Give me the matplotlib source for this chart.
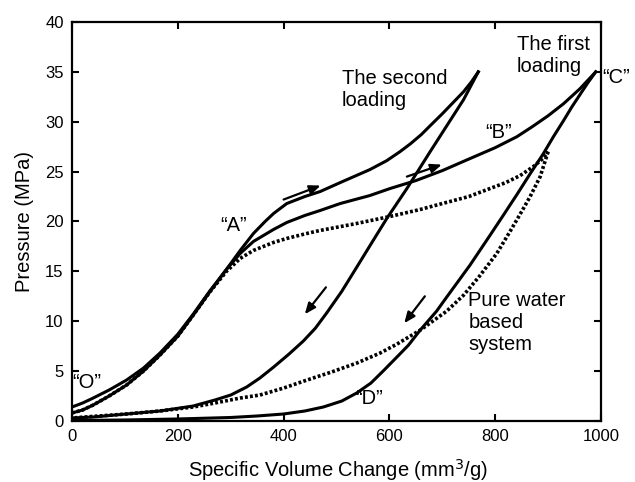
import matplotlib
matplotlib.use('Agg')
import matplotlib.pyplot as plt

plt.rcParams['font.family'] = ['Liberation Sans', 'DejaVu Sans']

# first loading (solid), ends at "C"
x_load1 = [0, 20, 40, 70, 103, 135, 166, 200, 229, 260, 292, 318, 343, 381, 406, 440,
           469, 507, 563, 601, 650, 700, 752, 800, 841, 870, 900, 929, 960, 990]
p_load1 = [1.4, 1.8, 2.3, 3.1, 4.1, 5.3, 6.8, 8.7, 10.7, 13.0, 15.2, 16.8, 18.0, 19.2,
           19.9, 20.6, 21.1, 21.8, 22.6, 23.3, 24.1, 25.1, 26.3, 27.4, 28.5, 29.5, 30.6,
           31.8, 33.3, 35.0]

# first unloading (solid), "C" -> "D"
x_unl1 = [990, 975, 960, 945, 929, 910, 891, 865, 841, 815, 790, 771, 752, 730, 708,
          689, 658, 636, 614, 588, 565, 538, 510, 475, 440, 400, 350, 300, 200, 100, 0]
p_unl1 = [35.0, 33.9, 32.7, 31.5, 30.1, 28.5, 26.8, 24.7, 22.7, 20.6, 18.6, 17.1, 15.6,
          14.0, 12.4, 11.0, 9.1, 7.6, 6.4, 5.0, 3.8, 2.8, 2.0, 1.4, 1.0, 0.7, 0.5, 0.35,
          0.2, 0.1, 0.05]

# second loading (solid)
x_load2 = [0, 20, 40, 70, 103, 135, 166, 200, 229, 260, 292, 318, 343, 365, 381, 406,
           440, 469, 507, 563, 595, 620, 640, 660, 677, 700, 720, 740, 755, 768]
p_load2 = [0.8, 1.1, 1.6, 2.5, 3.6, 5.0, 6.6, 8.5, 10.6, 12.9, 15.2, 17.1, 18.8, 20.0,
           20.8, 21.8, 22.5, 23.0, 23.9, 25.2, 26.1, 27.0, 27.8, 28.7, 29.6, 30.8, 31.9,
           33.0, 34.0, 35.0]

# second unloading (solid)
x_unl2 = [768, 740, 700, 677, 633, 595, 567, 538, 510, 481, 460, 437, 410, 381, 355,
          330, 300, 270, 229, 166, 103, 40, 0]
p_unl2 = [35.0, 32.2, 28.9, 27.0, 23.3, 20.3, 17.9, 15.4, 13.0, 10.8, 9.3, 8.0, 6.7,
          5.4, 4.3, 3.4, 2.6, 2.1, 1.5, 1.0, 0.7, 0.4, 0.3]

# pure water based system (dotted), loading then unloading
x_water_l = [0, 20, 40, 70, 103, 135, 166, 200, 229, 260, 292, 318, 343, 381, 406, 444,
             469, 538, 601, 658, 700, 750, 790, 820, 847, 872, 890, 900]
p_water_l = [0.8, 1.1, 1.6, 2.5, 3.6, 5.0, 6.6, 8.5, 10.6, 12.9, 15.0, 16.3, 17.1, 17.9,
             18.3, 18.8, 19.1, 19.8, 20.5, 21.2, 21.8, 22.5, 23.3, 23.9, 24.6, 25.5,
             26.3, 27.0]
x_water_u = [900, 885, 866, 850, 828, 803, 770, 740, 708, 658, 614, 582, 538, 490, 444,
             400, 355, 318, 270, 229, 166, 103, 50, 0]
p_water_u = [27.0, 24.5, 22.5, 21.0, 19.0, 16.8, 14.5, 12.6, 11.0, 9.1, 7.7, 6.8, 5.8,
             4.9, 4.1, 3.3, 2.6, 2.3, 1.8, 1.4, 1.0, 0.7, 0.5, 0.3]

fig = plt.figure(figsize=(6.35, 4.82), dpi=100)
ax = fig.add_axes([0.1134, 0.1266, 0.8331, 0.8278])

lw = 2.2
ax.plot(x_load1, p_load1, color='black', lw=lw)
ax.plot(x_unl1, p_unl1, color='black', lw=lw)
ax.plot(x_load2, p_load2, color='black', lw=lw)
ax.plot(x_unl2, p_unl2, color='black', lw=lw)
ax.plot(x_water_l, p_water_l, color='black', lw=2.6, linestyle=(0, (0.8, 0.6)))
ax.plot(x_water_u, p_water_u, color='black', lw=2.6, linestyle=(0, (0.8, 0.6)))

# direction arrows
arrows = [((400, 22.2), (470, 23.6)),
          ((633, 24.5), (699, 25.7)),
          ((480, 13.4), (440, 10.7)),
          ((667, 12.5), (628, 9.8))]
for start, end in arrows:
    ax.annotate('', xy=end, xytext=start,
                arrowprops=dict(arrowstyle='-|>,head_length=0.65,head_width=0.27',
                                color='black', lw=1.6, shrinkA=0, shrinkB=0))

fs = 14.5
ax.text(510, 35.3, 'The second\nloading', fontsize=fs, ha='left', va='top')
ax.text(841, 38.7, 'The first\nloading', fontsize=fs, ha='left', va='top')
ax.text(1002, 34.4, '\u201cC\u201d', fontsize=fs, ha='left', va='center', clip_on=False)
ax.text(781, 28.9, '\u201cB\u201d', fontsize=fs, ha='left', va='center')
ax.text(280, 19.6, '\u201cA\u201d', fontsize=fs, ha='left', va='center')
ax.text(0, 3.9, '\u201cO\u201d', fontsize=fs, ha='left', va='center')
ax.text(535, 2.3, '\u201cD\u201d', fontsize=fs, ha='left', va='center')
ax.text(749, 13.0, 'Pure water\nbased\nsystem', fontsize=fs, ha='left', va='top')

ax.set_xlim(0, 1000)
ax.set_ylim(0, 40)
ax.set_xticks(range(0, 1001, 200))
ax.set_yticks(range(0, 41, 5))
ax.tick_params(direction='in', top=True, right=True, length=5, width=1.5,
               labelsize=12, pad=6)
for s in ax.spines.values():
    s.set_linewidth(1.6)

ax.set_xlabel('Specific Volume Change (mm$^3$/g)', fontsize=14.5)
ax.set_ylabel('Pressure (MPa)', fontsize=14.5)
ax.xaxis.set_label_coords(0.502, -0.09)
ax.yaxis.set_label_coords(-0.072, 0.5)

fig.savefig('out.png', dpi=100)
